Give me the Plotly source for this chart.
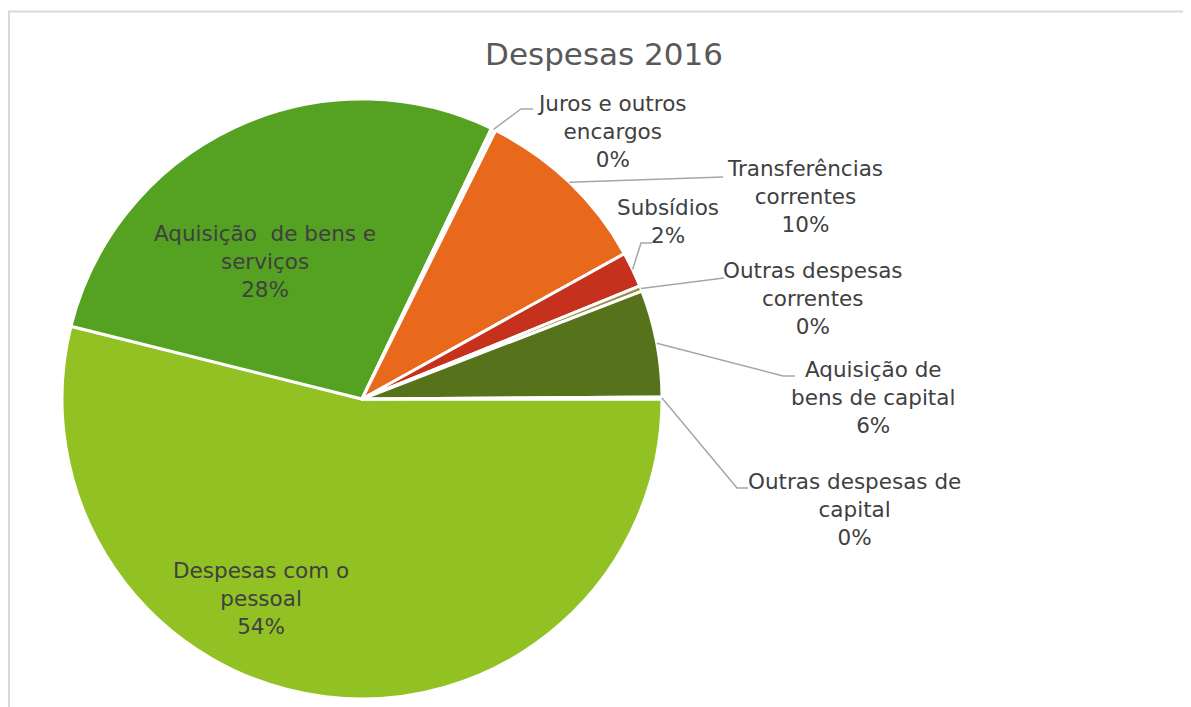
import math
import plotly.graph_objects as go

W, H = 1191, 707
# the page adds an 8px body margin, so reference pixel positions are shifted back by it
OFF = 8

categories = [
    "Despesas com o pessoal",
    "Aquisição  de bens e serviços",
    "Juros e outros encargos",
    "Transferências correntes",
    "Subsídios",
    "Outras despesas correntes",
    "Aquisição de bens de capital",
    "Outras despesas de capital",
]
values = [53.9, 28.2, 0.25, 9.6, 1.9, 0.3, 5.75, 0.1]
colors = ["#92C124", "#55A122", "#F2F2F2", "#E8691B", "#C5311C", "#9C8F4A", "#56731C", "#B7D44A"]

# label text broken the way the reference wraps it
label_lines = [
    "Despesas com o<br>pessoal",
    "Aquisição  de bens e<br>serviços",
    "Juros e outros<br>encargos",
    "Transferências<br>correntes",
    "Subsídios",
    "Outras despesas<br>correntes",
    "Aquisição de<br>bens de capital",
    "Outras despesas de<br>capital",
]

# pie geometry in reference pixels
CX, CY, R = 362 - OFF, 399 - OFF, 300

# label anchor (centre of text block) and leader elbow/end, reference pixels
label_pos = [
    (261, 598),
    (265, 261),
    (612, 131),
    (805, 196),
    (668, 221),
    (813, 298),
    (873, 397),
    (854, 509),
]
leader = [
    None,
    None,
    [(521, 109), (533, 109)],
    [(723, 177)],
    [(641, 243), (652, 243)],
    [(724, 278)],
    [(783, 376), (795, 376)],
    [(737, 488), (748, 488)],
]

total = sum(values)
pcts = [round(100 * v / total) for v in values]

fig = go.Figure()
fig.add_trace(go.Pie(
    labels=categories,
    values=values,
    sort=False,
    direction="clockwise",
    rotation=90,
    marker=dict(colors=colors, line=dict(color="#ffffff", width=3)),
    textinfo="none",
    hoverinfo="label+percent",
    showlegend=False,
    domain=dict(x=[(CX - R) / W, (CX + R) / W], y=[(H - CY - R) / H, (H - CY + R) / H]),
))

# invisible pixel-space axes for labels and leader lines
fig.add_trace(go.Scatter(x=[0, W], y=[0, H], mode="markers", marker=dict(opacity=0),
                         hoverinfo="skip", showlegend=False))

cum = 0.0
for i, v in enumerate(values):
    mid = cum + v / 2
    cum += v
    lx, ly = label_pos[i]
    fig.add_annotation(
        x=lx - OFF, y=ly - OFF, xref="x", yref="y",
        text=f"{label_lines[i]}<br>{pcts[i]}%",
        showarrow=False,
        font=dict(family="DejaVu Sans", size=21.5, color="#404040"),
        align="center",
    )
    if leader[i]:
        ang = math.radians(90 + 360 * mid / total)
        sx = CX + R * math.sin(ang)
        sy = CY - R * math.cos(ang)
        pts = [(sx, sy)] + [(px - OFF, py - OFF) for px, py in leader[i]]
        path = "M " + " L ".join(f"{px:.1f},{py:.1f}" for px, py in pts)
        fig.add_shape(type="path", path=path, xref="x", yref="y",
                      line=dict(color="#A6A6A6", width=1.5))

# chart frame
fig.add_shape(type="rect", xref="x", yref="y", x0=1, y0=3.5, x1=W + 5, y1=H + 5,
              line=dict(color="#D9D9D9", width=2), layer="below")

fig.update_layout(
    width=W, height=H,
    margin=dict(l=0, r=0, t=0, b=0),
    paper_bgcolor="#ffffff",
    plot_bgcolor="rgba(0,0,0,0)",
    title=dict(text="Despesas 2016", x=(604 - OFF) / W, xanchor="center",
               y=1 - (54 - OFF) / H, yanchor="middle",
               font=dict(family="DejaVu Sans", size=31, color="#595959")),
    xaxis=dict(range=[0, W], visible=False, fixedrange=True),
    yaxis=dict(range=[H, 0], visible=False, fixedrange=True),
)

fig.write_html("out.html")
